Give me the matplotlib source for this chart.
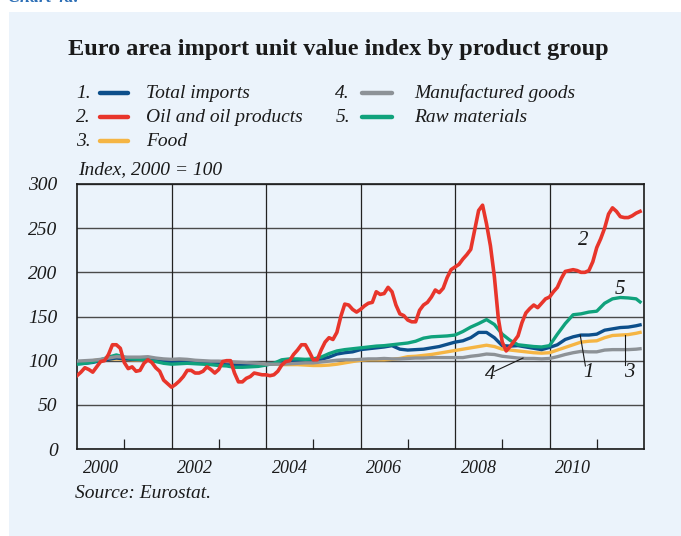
import numpy as np
import matplotlib
matplotlib.use("Agg")
import matplotlib.pyplot as plt
from matplotlib.lines import Line2D
from matplotlib.patches import Rectangle

# monthly oil series, Jan 2000 - Dec 2011
oil_months = np.arange(144)
oil = [
    83, 87, 92, 90, 87, 93, 99, 100, 107, 118, 118, 114,          # 2000
    98, 91, 93, 88, 89, 97, 101, 98, 92, 88, 78, 74,              # 2001
    70, 73, 77, 82, 89, 89, 86, 86, 88, 93, 90, 86,               # 2002
    90, 99, 100, 100, 86, 76, 76, 80, 82, 86, 85, 84,             # 2003
    84, 83, 84, 88, 95, 99, 100, 107, 112, 118, 118, 110,         # 2004
    101, 101, 112, 121, 126, 124, 132, 150, 164, 163, 158, 155,   # 2005
    158, 162, 165, 166, 178, 175, 176, 183, 178, 163, 153, 151,   # 2006
    146, 144, 144, 157, 163, 166, 172, 180, 177, 182, 194, 203,   # 2007
    206, 209, 215, 220, 226, 248, 270, 276, 255, 230, 195, 148,   # 2008
    121, 111, 116, 122, 128, 143, 154, 159, 163, 160, 165, 170,   # 2009
    172, 178, 183, 193, 201, 202, 203, 202, 200, 200, 202, 212,   # 2010
    228, 238, 250, 266, 273, 269, 263, 262, 262, 264, 267, 269,   # 2011
]

# the smoother groups, every second month plus Dec 2011
bi_months = np.r_[np.arange(0, 144, 2), 143]
total = [
    96.5, 97, 98, 100, 101.5, 103,
    102, 101.5, 101, 101, 100, 99,
    98.5, 98.5, 98.5, 98, 97.5, 97.5,
    97, 96, 95, 94.5, 94.5, 95,
    96, 96.5, 97.5, 99, 100.5, 101,
    100.5, 101.5, 104, 107.5, 109, 110,
    112.5, 113.5, 114.5, 115.5, 117, 113,
    112, 112.5, 113, 114.5, 116, 118.5,
    121, 122.5, 126, 132, 132, 126,
    117, 116.5, 117, 115.5, 114, 112.5,
    115, 118, 124, 127, 129, 129,
    130, 134.5, 136, 137.5, 138, 139.5,
    140.5,
]
food = [
    98.5, 99, 100, 101, 101.5, 102,
    101.5, 101, 100.5, 100.5, 100, 99.5,
    99, 99, 98.5, 98.5, 98, 98,
    97.5, 96.5, 96, 95.5, 95.5, 95.5,
    96, 96, 95.5, 95.5, 95.5, 95,
    94.5, 94.5, 95, 96, 97.5, 99,
    100.5, 101, 101, 101, 101.5, 102.5,
    104.5, 105, 106, 107, 108.5, 110,
    111.5, 113, 114.5, 116, 117.5, 116,
    113, 112, 111, 110, 109, 108.5,
    109, 112, 115, 118, 121, 122,
    122.5, 126, 128.5, 129, 129.5, 131,
    132,
]
manufactured = [
    99.5, 100, 100.5, 101.5, 103, 104.5,
    104, 104, 104, 104.5, 103, 102,
    101.5, 102, 101.5, 100.5, 100, 99.5,
    99.5, 99, 98.5, 98, 97.5, 97,
    96, 96, 96, 96.5, 97, 97.5,
    97.5, 98.5, 99.5, 100.5, 101, 101,
    101.5, 102, 102, 102.5, 102, 102,
    102.5, 103, 103, 103.5, 103.5, 103.5,
    103.5, 103.5, 105, 106, 107.5, 107,
    105, 104, 103, 102.5, 102.5, 102,
    102.5, 104.5, 107, 109, 110.5, 110,
    110, 112, 112.5, 112.5, 112.5, 113,
    113.5,
]
raw = [
    96, 97, 98.5, 101, 104, 106.5,
    104, 102, 101.5, 100.5, 99, 97,
    96, 96.5, 97, 96.5, 96, 95.5,
    94.5, 94, 92.5, 92.5, 93, 93.5,
    95, 97, 101, 102, 102, 101.5,
    102, 104, 108, 111, 112.5, 113.5,
    114.5, 115.5, 116.5, 117, 118, 119,
    120, 122, 125.5, 127, 127.5, 128,
    129, 133, 138, 142, 146.5, 141,
    130, 123, 118, 117, 116, 115.5,
    117, 130, 142, 152, 153, 155,
    156, 165, 170, 171.5, 171, 170,
    166.5,
]

labels = ["Total imports", "Oil and oil products", "Food",
          "Manufactured goods", "Raw materials"]
colors = ["#0d4f8b", "#e8352b", "#f5b544", "#8d9297", "#10a27c"]
year_labels = ["2000", "2002", "2004", "2006", "2008", "2010"]

t_oil = 2000 + oil_months / 12
t_bi = 2000 + bi_months / 12

W, H = 681, 536
BG = "#ebf3fb"
SERIF = ["Liberation Serif", "DejaVu Serif"]
plt.rcParams["font.family"] = SERIF


def fx(x):
    return x / W


def fy(y):
    return 1 - y / H


fig = plt.figure(figsize=(W / 100, H / 100), dpi=100)
fig.patch.set_facecolor("white")
fig.patches.append(Rectangle((fx(9), 0), 1 - fx(9), fy(12), transform=fig.transFigure,
                             facecolor=BG, edgecolor="none", zorder=-10))
fig.text(fx(8), fy(-2), "Chart 4a:", color="#2d6fb6", fontsize=13,
         style="italic", weight="bold", va="center", ha="left")

fig.text(fx(68), fy(50), "Euro area import unit value index by product group",
         fontsize=17.5, weight="bold", color="#1a1a1a", va="center", ha="left")

# legend, two columns
rows = [93, 117, 141]
slots = [(0, 0), (0, 1), (0, 2), (1, 0), (1, 1)]
col_num = [91, 350]
col_line = [(100, 128), (362, 392)]
col_text = [146, 414]
for i, (c, r) in enumerate(slots):
    y = fy(rows[r])
    fig.text(fx(col_num[c]), y, f"{i + 1}.", fontsize=14, style="italic",
             ha="right", va="center", color="#1a1a1a")
    fig.add_artist(Line2D([fx(col_line[c][0]), fx(col_line[c][1])], [y, y],
                          transform=fig.transFigure, color=colors[i], lw=3.2,
                          solid_capstyle="round"))
    fig.text(fx(col_text[c]), y, labels[i], fontsize=14, style="italic",
             ha="left", va="center", color="#1a1a1a")

ax = fig.add_axes([fx(77), fy(449), fx(644) - fx(77), fy(184) - fy(449)])
ax.set_facecolor(BG)
ax.set_xlim(2000, 2012)
ax.set_ylim(0, 300)

ax.set_yticks(np.arange(0, 301, 50))
ax.yaxis.grid(True, color="#4a4a4a", lw=1.0)
ax.vlines(np.arange(2002, 2011, 2), 0, 300, color="#222222", lw=0.9, zorder=1)
ax.set_axisbelow(True)

ax.set_xticks(np.arange(2001, 2012, 2))
ax.set_xticklabels([])
ax.set_xticks([int(s) + 0.5 for s in year_labels], minor=True)
ax.set_xticklabels(year_labels, minor=True)
ax.tick_params(axis="x", which="major", direction="in", length=7, width=0.9,
               color="#222222")
ax.tick_params(axis="x", which="minor", length=0, pad=8, labelsize=13)
ax.tick_params(axis="y", length=0, pad=14, labelsize=14)
for lab in ax.get_xticklabels(minor=True) + ax.get_yticklabels():
    lab.set_style("italic")
    lab.set_color("#1a1a1a")
for s in ax.spines.values():
    s.set_color("#1a1a1a")
    s.set_linewidth(1.2)

lw = 2.4
ax.plot(t_bi, food, color=colors[2], lw=lw, zorder=3)
ax.plot(t_bi, total, color=colors[0], lw=lw, zorder=3)
ax.plot(t_bi, raw, color=colors[4], lw=lw, zorder=3)
ax.plot(t_bi, manufactured, color=colors[3], lw=lw, zorder=3)
ax.plot(t_oil, oil, color=colors[1], lw=2.6, zorder=4)

# series numbers
note = dict(fontsize=15, style="italic", color="#1a1a1a", ha="center", va="center")
ax.text(2010.72, 236, "2", **note)
ax.text(2011.49, 181, "5", **note)
ax.text(2008.75, 84, "4", **note)
ax.text(2010.83, 87, "1", **note)
ax.text(2011.68, 87, "3", **note)
ax.plot([2008.84, 2009.44], [88, 103], color="#1a1a1a", lw=0.8, zorder=5)
ax.plot([2010.65, 2010.76], [129, 94], color="#1a1a1a", lw=0.8, zorder=5)
ax.plot([2011.60, 2011.60], [129, 95], color="#1a1a1a", lw=0.8, zorder=5)

fig.text(fx(78), fy(170), "Index, 2000 = 100", fontsize=14, style="italic",
         ha="left", va="center", color="#1a1a1a")
fig.text(fx(75), fy(494), "Source: Eurostat.", fontsize=14, style="italic",
         ha="left", va="center", color="#1a1a1a")

fig.savefig("out.png", dpi=100, facecolor=fig.get_facecolor())
